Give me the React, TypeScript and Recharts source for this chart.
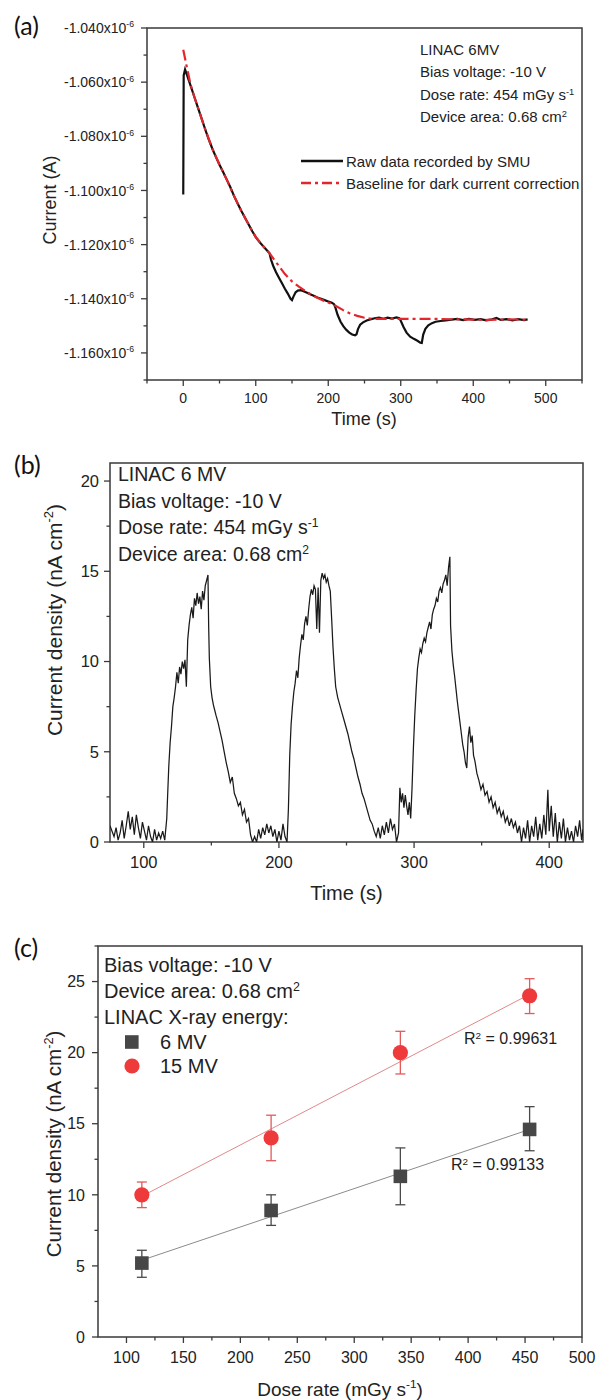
import React from "react"
import { LineChart, ComposedChart, Line, Scatter, ErrorBar, XAxis, YAxis, ReferenceArea, Legend } from "recharts"

const FONT = '"Liberation Sans", Arial, Helvetica, sans-serif'
const INK = "#222"
const FRAME = "#3a3a3a"

// ---------- (a) raw current, in µA (axis shows x10^-6 A)
const rawTime = [
  0, 0.6, 2.5, 5, 10, 15, 20, 25, 30, 35, 40, 45, 50, 55, 60, 65, 70, 75, 80, 85, 90, 95, 100, 105, 110, 115, 119,
  121, 124, 128, 132, 136, 140, 144, 148, 150, 152, 155, 158, 162, 166, 170, 175, 180, 185, 190, 195, 200, 205, 208,
  210, 213, 217, 221, 225, 229, 233, 237, 239, 241, 244, 248, 253, 258, 264, 270, 276, 282, 288, 294, 298,
  300, 304, 308, 313, 318, 323, 327, 329, 331, 334, 338, 343, 348, 355, 362, 370, 378, 386, 394, 402, 410, 418,
  426, 432, 438, 446, 454, 462, 470, 475,
]
const rawCurrent = [
  -1.1015, -1.0575, -1.0553, -1.0572, -1.0612, -1.0652, -1.0692, -1.0732, -1.0772, -1.081, -1.0845, -1.0876, -1.0905,
  -1.0932, -1.096, -1.0988, -1.102, -1.1048, -1.1075, -1.11, -1.1125, -1.115, -1.1172, -1.119, -1.1205, -1.122, -1.1232,
  -1.1255, -1.1278, -1.1302, -1.1322, -1.1342, -1.1362, -1.138, -1.14, -1.1405, -1.1392, -1.1376, -1.137, -1.1368,
  -1.1372, -1.1377, -1.1383, -1.1389, -1.1395, -1.14, -1.1405, -1.141, -1.1415, -1.142,
  -1.1434, -1.146, -1.1485, -1.1502, -1.1515, -1.1525, -1.1532, -1.1535, -1.1531, -1.1512, -1.1496, -1.1487, -1.148,
  -1.1476, -1.1472, -1.147, -1.1474, -1.147, -1.1473, -1.1469, -1.1472,
  -1.1481, -1.1505, -1.1525, -1.154, -1.1548, -1.1555, -1.1562, -1.1563, -1.1532, -1.1511, -1.1498, -1.149, -1.1485,
  -1.1482, -1.148, -1.1477, -1.1474, -1.1479, -1.1474, -1.1478, -1.1475, -1.148,
  -1.1476, -1.1471, -1.1478, -1.1475, -1.148, -1.1475, -1.1479, -1.1476,
]
const baseTime = [
  0, 5, 10, 15, 20, 30, 40, 50, 60, 70, 80, 90, 100, 110, 119, 130, 140, 150, 160, 170, 180, 190, 200, 210, 220, 230,
  240, 250, 260, 300, 340, 380, 420, 450, 475,
]
const baseCurrent = [
  -1.048, -1.0545, -1.0608, -1.0652, -1.0692, -1.0772, -1.0845, -1.0905, -1.096, -1.102, -1.1075, -1.1125, -1.1172,
  -1.1205, -1.1232, -1.1272, -1.1308, -1.1336, -1.1356, -1.1374, -1.139, -1.1403, -1.1414, -1.1426, -1.1441, -1.1454,
  -1.1463, -1.147, -1.1474, -1.1474, -1.1474, -1.1476, -1.1478, -1.1476, -1.1477,
]
const aSeriesNames = ["Raw data recorded by SMU", "Baseline for dark current correction"]
const aXMajor = [0, 100, 200, 300, 400, 500]
const aXTicks = [-50, 0, 50, 100, 150, 200, 250, 300, 350, 400, 450, 500, 550]
const aYMajor = [-1.16, -1.14, -1.12, -1.1, -1.08, -1.06, -1.04]
const aYTicks = [-1.17, -1.16, -1.15, -1.14, -1.13, -1.12, -1.11, -1.1, -1.09, -1.08, -1.07, -1.06, -1.05, -1.04]
const aNotes = ["LINAC 6MV", "Bias voltage: -10 V", "Dose rate: 454 mGy s|-1", "Device area: 0.68 cm|2"]

// ---------- (b) current density, nA cm^-2
const bTime = [
  75, 76.5, 78, 79.5, 81, 82.5, 84, 85.5, 87, 88.5, 90, 91.5, 93, 94.5, 96, 97.5, 99, 100.5, 102, 103.5, 105, 106.5,
  108, 109.5, 111, 112.5, 114, 115.5, 117,
  117.5, 118.5, 119.5, 120.5, 121.5, 122.5, 123.5, 124.5, 125.5, 126.5, 127.5, 128.5, 129.5, 130.5, 131.5, 132.5,
  133.5, 134.5, 135.5, 136.5, 137.5, 138.5, 139.5, 140.5, 141.5, 142.5, 143.5, 144.5, 145.5, 146.5, 147.5,
  148, 148.5, 149.5, 150.5, 151.5, 152.5, 153.5, 155, 156.5, 158, 159.5, 161, 162.5, 164, 165.5, 167, 168.5, 170,
  171.5, 173, 174.5, 176, 177.5, 179, 180.5,
  182, 183.5, 185, 186.5, 188, 189.5, 191, 192.5, 194, 195.5, 197, 198.5, 200, 201.5, 203, 204.5, 206,
  207, 208, 209, 210, 211, 212, 213, 214, 215, 216, 217, 218, 219, 220, 221, 222, 223, 224, 225, 226, 227, 228, 229,
  230, 231, 232, 233, 234, 235, 236, 237, 238,
  239, 240, 241, 242, 243.5, 245, 246.5, 248, 249.5, 251, 252.5, 254, 255.5, 257, 258.5, 260, 261.5, 263, 264.5, 266,
  267.5, 269, 270.5, 272, 273.5, 275, 276.5, 278, 279.5, 281, 282.5, 284, 285.5, 287,
  288.5, 289.5, 290.5, 291.5, 292.5, 293.5, 294.5, 295.5, 296.5, 297.5,
  298.5, 299.5, 300.5, 301.5, 302.5, 303.5, 304.5, 305.5, 306.5, 307.5, 308.5, 309.5, 310.5, 311.5, 312.5, 313.5,
  314.5, 315.5, 316.5, 317.5, 318.5, 319.5, 320.5, 321.5, 322.5, 323.5, 324.5, 325.5, 326.5,
  327, 328, 329, 330, 331, 332, 333, 334, 335, 336, 337, 338, 339, 340, 341, 342, 343, 344, 345, 346.5, 348, 349.5,
  351, 352.5, 354, 355.5, 357, 358.5, 360, 361.5, 363, 364.5, 366, 367.5, 369, 370.5, 372, 373.5, 375, 376.5, 378, 379.5,
  381, 382.5, 384, 385.5, 387, 388.5, 390, 391.5, 393, 394.5, 396, 397.5, 399, 400, 401.5, 403, 404.5, 406, 407.5,
  409, 410.5, 412, 413.5, 415, 416.5, 418, 419.5, 421, 422.5, 424, 425,
]
const bDensity = [
  0.9, 0.6, 0.3, 0.8, 0.1, 0.5, 1.2, 0.2, 0.9, 1.7, 0.7, 1.4, 0.4, 1.5, 0.8, 0.2, 1.1, 0.6, 0.1, 0.9, 0.3, 0.0, 0.7,
  0.1, 0.5, 0.2, 0.6, 0.1, 1.3,
  2.3, 4.2, 5.5, 6.4, 7.5, 8.0, 8.6, 9.4, 8.8, 9.7, 9.3, 10.0, 9.6, 10.1, 8.6, 11.2, 12.0, 12.6, 13.0, 12.4, 13.5, 13.1,
  13.8, 13.2, 13.6, 12.9, 13.9, 13.4, 14.2, 14.5, 14.8,
  12.0, 10.2, 8.6, 8.0, 7.6, 7.3, 7.0, 6.6, 6.1, 5.6, 5.0, 4.4, 3.9, 3.3, 3.6, 2.7, 2.4, 2.0, 2.2, 1.5, 1.8, 1.1, 1.3,
  0.4, 0.0,
  0.3, 0.0, 0.7, 0.2, 0.8, 0.4, 1.0, 0.5, 0.9, 0.3, 0.7, 0.0, 0.6, 0.1, 1.0, 0.3, 0.0,
  1.8, 4.8, 6.5, 7.5, 8.3, 8.8, 9.5, 9.1, 10.2, 10.9, 11.5, 11.2, 12.1, 12.5, 12.0, 12.9, 13.6, 14.0, 13.7, 14.2, 14.0,
  11.8, 14.1, 11.6, 14.5, 14.9, 14.6, 14.8, 14.4, 14.6, 14.2, 13.9,
  12.4, 10.8, 9.6, 8.6, 8.0, 7.6, 7.2, 6.8, 6.4, 6.0, 5.5, 5.0, 4.6, 4.1, 3.6, 3.2, 2.7, 2.4, 2.0, 1.6, 1.2, 1.0, 0.6,
  0.3, 0.8, 0.2, 0.9, 0.4, 1.1, 0.5, 1.3, 0.7, 1.0, 0.0,
  0.5, 3.0, 2.2, 2.7, 1.9, 2.6, 2.0, 1.5, 2.2, 1.3,
  3.0, 5.2, 7.0, 8.4, 9.6, 10.2, 10.7, 10.5, 11.0, 11.3, 11.1, 11.6, 11.9, 12.2, 11.8, 12.6, 12.9, 13.1, 13.5, 13.3,
  13.9, 14.1, 13.8, 14.3, 14.5, 14.8, 14.2, 15.2, 15.8,
  12.0, 10.6, 9.8, 9.2, 8.5, 7.8, 7.2, 6.6, 6.0, 5.4, 5.0, 4.4, 4.1, 5.8, 6.4, 5.5, 5.9, 4.8, 4.5, 3.8, 3.4, 2.9, 3.2,
  2.6, 2.8, 2.2, 2.5, 1.9, 2.2, 1.6, 1.9, 1.4, 1.7, 1.1, 1.4, 0.9, 1.3, 0.8, 1.1, 0.5, 0.9, 0.0,
  0.8, 0.2, 1.2, 0.0, 0.9, 0.3, 1.4, 0.1, 1.0, 0.2, 1.5, 0.4, 2.9, 0.6, 2.0, 0.3, 1.6, 0.0, 1.1, 0.2, 1.3, 0.0, 0.8,
  0.1, 0.6, 0.0, 0.9, 0.3, 1.2, 0.1, 0.7,
]
const bXMajor = [100, 200, 300, 400]
const bXTicks = [100, 150, 200, 250, 300, 350, 400]
const bYMajor = [0, 5, 10, 15, 20]
const bYTicks = [0, 2.5, 5, 7.5, 10, 12.5, 15, 17.5, 20]
const bNotes = ["LINAC 6 MV", "Bias voltage: -10 V", "Dose rate: 454 mGy s|-1", "Device area: 0.68 cm|2"]

// ---------- (c) response vs dose rate
const doseRate = [113.5, 227, 340.5, 454]
const mv6 = [5.2, 8.9, 11.3, 14.6]
const mv6Err = [[1.0, 0.9], [1.05, 1.1], [2.0, 2.0], [1.5, 1.6]]
const mv15 = [10.0, 14.0, 20.0, 24.0]
const mv15Err = [[0.9, 0.9], [1.6, 1.6], [1.5, 1.5], [1.25, 1.2]]
const fitDose = [113.5, 454]
const fit6 = [5.4, 14.6]
const fit15 = [9.9, 24.1]
const cSeriesNames = ["6 MV", "15 MV"]
const cXMajor = [100, 150, 200, 250, 300, 350, 400, 450, 500]
const cXTicks = [100, 125, 150, 175, 200, 225, 250, 275, 300, 325, 350, 375, 400, 425, 450, 475, 500]
const cYMajor = [0, 5, 10, 15, 20, 25]
const cYTicks = [0, 2.5, 5, 7.5, 10, 12.5, 15, 17.5, 20, 22.5, 25, 27.5]
const cNotes = ["Bias voltage: -10 V", "Device area: 0.68 cm|2", "LINAC X-ray energy:"]

const near = (arr: number[], v: number) => arr.some((m) => Math.abs(m - v) < 1e-9)

// "text|sup" -> text with superscript
const supText = (s: string, fs: number) => {
  const [main, sup] = s.split("|")
  return (
    <>
      {main}
      {sup && <tspan dy={-fs * 0.4} fontSize={fs * 0.62}>{sup}</tspan>}
    </>
  )
}
const supHtml = (s: string) => {
  const [main, sup] = s.split("|")
  return (
    <>
      {main}
      {sup && <sup style={{ fontSize: "0.62em", lineHeight: 0, verticalAlign: "0.55em" }}>{sup}</sup>}
    </>
  )
}

const bottomTick = (major: number[], fs: number, gap: number) => (p: any) => {
  const v = p.payload.value
  const big = near(major, v)
  return (
    <g>
      <line x1={p.x} x2={p.x} y1={p.y} y2={p.y + (big ? 6 : 3.5)} stroke={FRAME} strokeWidth={1.3} />
      {big && (
        <text x={p.x} y={p.y + gap} dy="0.36em" textAnchor="middle" fontSize={fs} fill={INK} fontFamily={FONT}>
          {v}
        </text>
      )}
    </g>
  )
}

const leftTick = (major: number[], fs: number, gap: number, sci = false) => (p: any) => {
  const v = p.payload.value
  const big = near(major, v)
  return (
    <g>
      <line x1={p.x - (big ? 6 : 3.5)} x2={p.x} y1={p.y} y2={p.y} stroke={FRAME} strokeWidth={1.3} />
      {big && (
        <text x={p.x - gap} y={p.y} dy="0.36em" textAnchor="end" fontSize={fs} fill={INK} fontFamily={FONT}>
          {sci ? supText(`${v.toFixed(3)}x10|-6`, fs) : v}
        </text>
      )}
    </g>
  )
}

const Title = (props: any) => {
  const { cx, cy, fs, text, rotate } = props
  return (
    <text
      x={cx}
      y={cy}
      dy="0.36em"
      textAnchor="middle"
      transform={rotate ? `rotate(-90 ${cx} ${cy})` : undefined}
      fontSize={fs}
      fill={INK}
      fontFamily={FONT}
    >
      {supText(text, fs).props.children}
      {text.includes("|") && <tspan dy={fs * 0.4}>)</tspan>}
    </text>
  )
}

const Note = ({ left, cy, fs, lh = 1.2, children }: any) => (
  <div
    style={{
      position: "absolute",
      left,
      top: cy - (fs * lh) / 2,
      fontSize: fs,
      lineHeight: `${fs * lh}px`,
      whiteSpace: "nowrap",
      fontFamily: FONT,
      color: INK,
    }}
  >
    {children}
  </div>
)

const PanelLetter = ({ cy, text }: any) => (
  <div
    style={{
      position: "absolute",
      left: 14,
      top: cy - 15,
      fontSize: 25,
      lineHeight: "30px",
      fontFamily: "Lato, 'Noto Sans', sans-serif",
      color: "#111",
    }}
  >
    {text}
  </div>
)

const axisBase = { tickLine: false, axisLine: false, tickSize: 0, tickMargin: 0, interval: 0 as const, allowDataOverflow: true }

const byOrder = (payload: any[], order: string[]) =>
  order.map((n) => (payload || []).find((e: any) => e.value === n)).filter(Boolean)

function PanelA() {
  const raw = rawTime.map((t, i) => ({ t, v: rawCurrent[i] }))
  const base = baseTime.map((t, i) => ({ t, v: baseCurrent[i] }))
  const aLegend = (props: any) => (
    <div style={{ fontFamily: FONT, fontSize: 15, color: INK }}>
      {byOrder(props.payload, aSeriesNames).map((e: any) => (
        <div key={e.value} style={{ display: "flex", alignItems: "center", height: 22.3, whiteSpace: "nowrap" }}>
          <svg width={42} height={6}>
            <line
              x1={0}
              x2={42}
              y1={3}
              y2={3}
              stroke={e.color}
              strokeWidth={2.4}
              strokeDasharray={e.value === aSeriesNames[1] ? "10 4 3 4" : undefined}
            />
          </svg>
          <span style={{ marginLeft: 3 }}>{e.value}</span>
        </div>
      ))}
    </div>
  )
  return (
    <div style={{ position: "absolute", left: 0, top: 0, width: 605, height: 440 }}>
      <LineChart width={605} height={440} margin={{ top: 28, right: 23, bottom: 30, left: 0 }}>
        <XAxis
          type="number"
          dataKey="t"
          domain={[-50, 550]}
          ticks={aXTicks}
          height={30}
          tick={bottomTick(aXMajor, 14, 18)}
          label={<Title cx={364} cy={419} fs={18} text="Time (s)" />}
          {...axisBase}
        />
        <YAxis
          type="number"
          dataKey="v"
          domain={[-1.17, -1.04]}
          ticks={aYTicks}
          width={147}
          tick={leftTick(aYMajor, 14, 13, true)}
          label={<Title cx={50} cy={200} fs={18} text="Current (A)" rotate />}
          {...axisBase}
        />
        <ReferenceArea x1={-50} x2={550} y1={-1.17} y2={-1.04} fill="none" stroke={FRAME} strokeWidth={1.5} />
        <Line data={raw} dataKey="v" name={aSeriesNames[0]} stroke="#111" strokeWidth={2.2} dot={false} isAnimationActive={false} />
        <Line
          data={base}
          dataKey="v"
          name={aSeriesNames[1]}
          stroke="#e3262c"
          strokeWidth={2.2}
          strokeDasharray="11 4 3 4"
          dot={false}
          isAnimationActive={false}
        />
        <Legend
          layout="vertical"
          align="center"
          verticalAlign="middle"
          content={aLegend}
          wrapperStyle={{ left: 301, top: 150, width: 290, height: 46 }}
        />
      </LineChart>
      {aNotes.map((n, i) => (
        <Note key={n} left={420} cy={49.5 + i * 22.5} fs={15}>
          {supHtml(n)}
        </Note>
      ))}
      <PanelLetter cy={25} text="(a)" />
    </div>
  )
}

function PanelB() {
  const rows = bTime.map((t, i) => ({ t, v: bDensity[i] }))
  return (
    <div style={{ position: "absolute", left: 0, top: 440, width: 605, height: 475 }}>
      <LineChart width={605} height={475} data={rows} margin={{ top: 23, right: 22, bottom: 43, left: 0 }}>
        <XAxis
          type="number"
          dataKey="t"
          domain={[75, 425]}
          ticks={bXTicks}
          height={30}
          tick={bottomTick(bXMajor, 16.5, 20.5)}
          label={<Title cx={346.5} cy={452.7} fs={20} text="Time (s)" />}
          {...axisBase}
        />
        <YAxis
          type="number"
          dataKey="v"
          domain={[0, 21]}
          ticks={bYTicks}
          width={110}
          tick={leftTick(bYMajor, 16.5, 11)}
          label={<Title cx={54} cy={180} fs={21} text="Current density (nA cm|-2" rotate />}
          {...axisBase}
        />
        <ReferenceArea x1={75} x2={425} y1={0} y2={21} fill="none" stroke={FRAME} strokeWidth={1.5} />
        <Line dataKey="v" stroke="#1a1a1a" strokeWidth={1.25} dot={false} isAnimationActive={false} />
      </LineChart>
      {bNotes.map((n, i) => (
        <Note key={n} left={118} cy={35 + i * 26.4} fs={19.5}>
          {supHtml(n)}
        </Note>
      ))}
      <PanelLetter cy={24} text="(b)" />
    </div>
  )
}

function PanelC() {
  const s6 = doseRate.map((x, i) => ({ x, y: mv6[i], err: mv6Err[i] }))
  const s15 = doseRate.map((x, i) => ({ x, y: mv15[i], err: mv15Err[i] }))
  const f6 = fitDose.map((x, i) => ({ x, y: fit6[i] }))
  const f15 = fitDose.map((x, i) => ({ x, y: fit15[i] }))
  const square = (p: any) => <rect x={p.cx - 6.8} y={p.cy - 6.8} width={13.6} height={13.6} fill="#474747" />
  const dotShape = (p: any) => <circle cx={p.cx} cy={p.cy} r={7.6} fill="#ee3a3a" />
  const cLegend = (props: any) => (
    <div style={{ fontFamily: FONT, fontSize: 20, color: INK, lineHeight: "26px", whiteSpace: "nowrap" }}>
      {cNotes.map((n) => (
        <div key={n}>{supHtml(n)}</div>
      ))}
      {byOrder(props.payload, cSeriesNames).map((e: any) => (
        <div key={e.value} style={{ display: "flex", alignItems: "center", height: 24 }}>
          <svg width={56} height={18}>
            {e.value === cSeriesNames[0] ? (
              <rect x={21} y={2.2} width={13.6} height={13.6} fill="#474747" />
            ) : (
              <circle cx={28} cy={9} r={7.6} fill="#ee3a3a" />
            )}
          </svg>
          <span>{e.value}</span>
        </div>
      ))}
    </div>
  )
  return (
    <div style={{ position: "absolute", left: 0, top: 900, width: 605, height: 500 }}>
      <ComposedChart width={605} height={500} margin={{ top: 46, right: 23, bottom: 33, left: 0 }}>
        <XAxis
          type="number"
          dataKey="x"
          domain={[75, 500]}
          ticks={cXTicks}
          height={30}
          tick={bottomTick(cXMajor, 16, 20)}
          label={<Title cx={340} cy={489} fs={19} text="Dose rate (mGy s|-1" />}
          {...axisBase}
        />
        <YAxis
          type="number"
          dataKey="y"
          domain={[0, 27.5]}
          ticks={cYTicks}
          width={98}
          tick={leftTick(cYMajor, 16, 13)}
          label={<Title cx={54} cy={244} fs={20.5} text="Current density (nA cm|-2" rotate />}
          {...axisBase}
        />
        <ReferenceArea x1={75} x2={500} y1={0} y2={27.5} fill="none" stroke={FRAME} strokeWidth={1.5} />
        <Line data={f6} dataKey="y" stroke="#8c8c8c" strokeWidth={1} dot={false} legendType="none" isAnimationActive={false} />
        <Line data={f15} dataKey="y" stroke="#e08a8a" strokeWidth={1} dot={false} legendType="none" isAnimationActive={false} />
        <Scatter data={s6} name={cSeriesNames[0]} fill="#474747" shape={square} isAnimationActive={false}>
          <ErrorBar dataKey="err" direction="y" width={5} stroke="#4a4a4a" strokeWidth={1.3} />
        </Scatter>
        <Scatter data={s15} name={cSeriesNames[1]} fill="#ee3a3a" shape={dotShape} isAnimationActive={false}>
          <ErrorBar dataKey="err" direction="y" width={5} stroke="#e25a5a" strokeWidth={1.3} />
        </Scatter>
        <Legend
          layout="vertical"
          align="center"
          verticalAlign="middle"
          content={cLegend}
          wrapperStyle={{ left: 104, top: 52, width: 260, height: 135 }}
        />
      </ComposedChart>
      <Note left={464} cy={138.3} fs={16}>
        {supHtml("R|2")} = 0.99631
      </Note>
      <Note left={451} cy={265} fs={16}>
        {supHtml("R|2")} = 0.99133
      </Note>
      <PanelLetter cy={47} text="(c)" />
    </div>
  )
}

export default function App() {
  return (
    <div style={{ position: "absolute", left: 0, top: 0, width: 605, height: 1400, background: "#fff", overflow: "hidden" }}>
      <PanelA />
      <PanelB />
      <PanelC />
    </div>
  )
}
